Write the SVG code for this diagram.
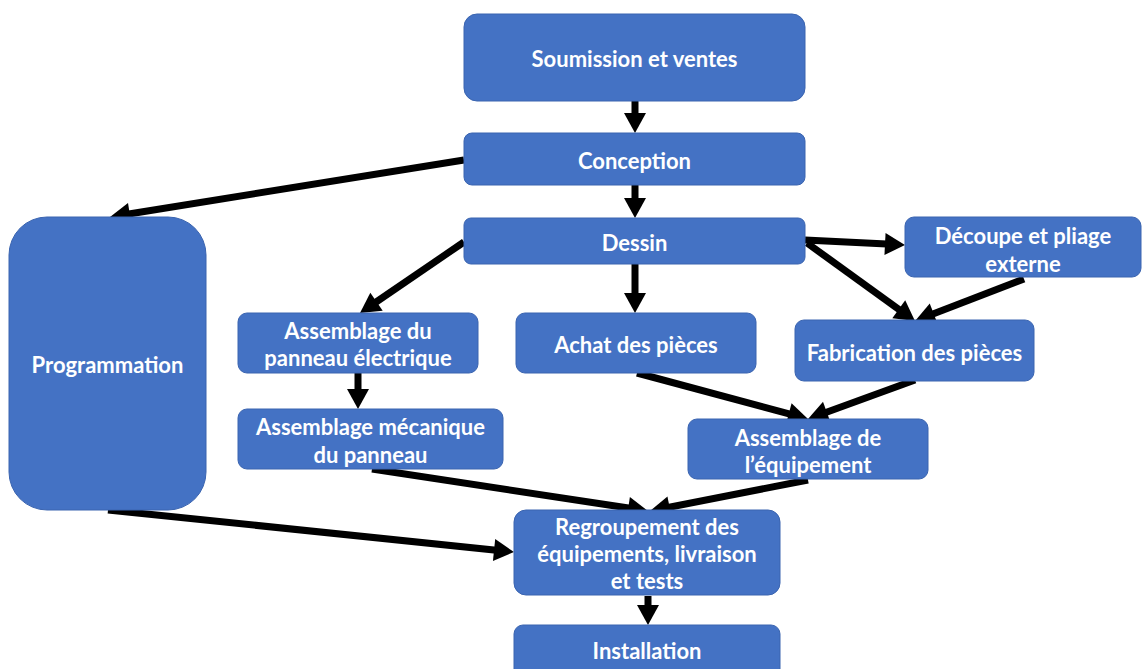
<svg xmlns="http://www.w3.org/2000/svg" width="1142" height="669" viewBox="0 0 1142 669">
<defs>
<style>
.box{fill:#4472C4;stroke:#3A64B0;stroke-width:1}
.t{font-family:Lato,"Open Sans",sans-serif;font-weight:bold;font-size:22px;fill:#fff;text-anchor:middle;dominant-baseline:central}
.c{stroke:#000;stroke-width:7;fill:none;marker-end:url(#ah)}
</style>
<marker id="ah" markerUnits="userSpaceOnUse" markerWidth="20" markerHeight="22" refX="12" refY="11" orient="auto" overflow="visible">
<path d="M0,0 L20,11 L0,22 z" fill="#000"/>
</marker>
</defs>
<rect width="1142" height="669" fill="#fff"/>
<g id="connectors">
<line class="c" x1="635" y1="101" x2="635" y2="125"/>
<line class="c" x1="635" y1="185" x2="635" y2="210"/>
<line class="c" x1="464" y1="160" x2="117.9" y2="215.7"/>
<line class="c" x1="464" y1="242" x2="366.6" y2="308.5"/>
<line class="c" x1="635" y1="264" x2="635" y2="305"/>
<line class="c" x1="805" y1="240" x2="897" y2="244.6"/>
<line class="c" x1="807" y1="243" x2="908.5" y2="316.3"/>
<line class="c" x1="1024" y1="279" x2="922.5" y2="318.1"/>
<line class="c" x1="358" y1="373" x2="358" y2="401"/>
<line class="c" x1="637" y1="373" x2="800.3" y2="416.9"/>
<line class="c" x1="915" y1="380" x2="815.5" y2="416.3"/>
<line class="c" x1="372" y1="469" x2="640.1" y2="509.8"/>
<line class="c" x1="808" y1="480" x2="657.8" y2="509.5"/>
<line class="c" x1="108" y1="510" x2="506" y2="551.2"/>
<line class="c" x1="648" y1="596" x2="648" y2="617"/>
</g>
<g id="soumission"><rect class="box" x="464" y="14" width="341" height="87" rx="13"/><text class="t" x="634.5" y="58">Soumission et ventes</text></g>
<g id="conception"><rect class="box" x="464" y="133" width="341" height="52" rx="8"/><text class="t" x="634.5" y="160">Conception</text></g>
<g id="dessin"><rect class="box" x="464" y="218" width="341" height="46" rx="7"/><text class="t" x="634.5" y="242">Dessin</text></g>
<g id="decoupe"><rect class="box" x="905" y="217" width="236" height="60" rx="9"/><text class="t" x="1023" y="235">Découpe et pliage</text><text class="t" x="1023" y="263">externe</text></g>
<g id="fabrication"><rect class="box" x="795" y="320" width="239" height="61" rx="9"/><text class="t" x="914.5" y="352">Fabrication des pièces</text></g>
<g id="achat"><rect class="box" x="516" y="313" width="240" height="60" rx="9"/><text class="t" x="636" y="344">Achat des pièces</text></g>
<g id="panneau-elec"><rect class="box" x="238" y="313" width="240" height="60" rx="9"/><text class="t" x="358" y="330">Assemblage du</text><text class="t" x="358" y="357">panneau électrique</text></g>
<g id="panneau-meca"><rect class="box" x="238" y="409" width="265" height="60" rx="9"/><text class="t" x="370.5" y="426">Assemblage mécanique</text><text class="t" x="370.5" y="454">du panneau</text></g>
<g id="equipement"><rect class="box" x="688" y="419" width="240" height="60" rx="9"/><text class="t" x="808" y="437">Assemblage de</text><text class="t" x="808" y="464">l’équipement</text></g>
<g id="programmation"><rect class="box" x="9" y="217" width="197" height="293" rx="38"/><text class="t" x="107.5" y="364">Programmation</text></g>
<g id="regroupement"><rect class="box" x="514" y="510" width="266" height="85" rx="12"/><text class="t" x="647" y="526">Regroupement des</text><text class="t" x="647" y="553">équipements, livraison</text><text class="t" x="647" y="580">et tests</text></g>
<g id="installation"><rect class="box" x="514" y="625" width="266" height="60" rx="9"/><text class="t" x="647" y="650">Installation</text></g>
</svg>
